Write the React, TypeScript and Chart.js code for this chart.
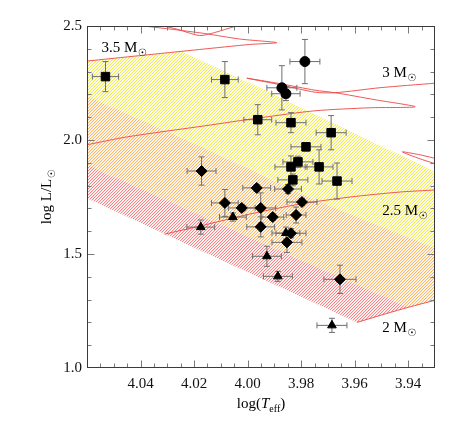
import React, { useEffect, useRef } from 'react';
import { Chart, registerables } from 'chart.js';

Chart.register(...registerables);

// ---------- Observed stars (log Teff, log L/Lsun) with errors ----------
const circleX = [3.9786, 3.9872, 3.9857];
const circleY = [2.344, 2.229, 2.203];
const circleXErr = [0.0056, 0.0056, 0.0053];
const circleYErr = [0.097, 0.097, 0.03];

const squareX = [4.0531, 4.0085, 3.9962, 3.9838, 3.9688, 3.9782, 3.9812, 3.9838, 3.9733, 3.9831, 3.9666];
const squareY = [2.278, 2.265, 2.089, 2.076, 2.032, 1.970, 1.904, 1.882, 1.882, 1.825, 1.820];
const squareXErr = [0.0049, 0.005, 0.0052, 0.0056, 0.0056, 0.0056, 0.0056, 0.006, 0.0052, 0.0056, 0.0056];
const squareYErr = [0.066, 0.079, 0.066, 0.044, 0.075, 0.018, 0.025, 0.048, 0.075, 0.026, 0.079];

const diamondX = [4.0172, 3.9966, 3.9849, 3.9797, 4.0085, 4.0022, 3.9951, 3.9906, 3.9819, 3.9951, 3.9838, 3.9853, 3.9655];
const diamondY = [1.864, 1.790, 1.785, 1.728, 1.724, 1.702, 1.702, 1.662, 1.671, 1.619, 1.591, 1.551, 1.389];
const diamondXErr = [0.0054, 0.0052, 0.005, 0.0056, 0.005, 0.005, 0.0056, 0.0041, 0.0037, 0.0052, 0.0056, 0.0056, 0.006];
const diamondYErr = [0.062, 0.015, 0.02, 0.015, 0.059, 0.015, 0.066, 0.015, 0.035, 0.044, 0.02, 0.044, 0.062];

const triangleX = [4.0175, 4.0055, 3.9857, 3.9928, 3.9887, 3.9685];
const triangleY = [1.618, 1.662, 1.592, 1.490, 1.402, 1.187];
const triangleXErr = [0.0052, 0.005, 0.0052, 0.0054, 0.0054, 0.0056];
const triangleYErr = [0.031, 0.018, 0.026, 0.044, 0.022, 0.031];

// ---------- Evolutionary tracks ----------
const track35X = [4.0602, 4.0404, 4.0179, 3.9992, 3.9891, 4.0029, 4.016, 4.0291, 4.0404, 4.0516, 4.0479, 4.0366, 4.0273, 4.0179, 4.0123, 4.0048, 3.9973];
const track35Y = [2.346, 2.370, 2.397, 2.419, 2.427, 2.4428, 2.467, 2.4868, 2.5022, 2.5198, 2.5286, 2.511, 2.489, 2.4582, 2.4714, 2.4978, 2.5198];

const track3X = [4.0602, 4.0449, 4.016, 3.9954, 3.9748, 3.9542, 3.9374, 3.9524, 3.9673, 3.9748, 3.9879, 4.0003, 3.9879, 3.9748, 3.9673, 3.9505, 3.9299];
const track3Y = [1.9787, 2.0139, 2.0622, 2.0974, 2.1282, 2.1414, 2.1458, 2.1766, 2.2074, 2.2184, 2.247, 2.2712, 2.2426, 2.2096, 2.2074, 2.2294, 2.2492];

const track25X = [4.031, 4.0179, 3.9992, 3.9804, 3.9617, 3.943, 3.9299];
const track25Y = [1.5871, 1.6223, 1.6751, 1.7191, 1.7499, 1.7719, 1.7807];

const loop25X = [3.9261, 3.9355, 3.9422, 3.9355, 3.9261];
const loop25Y = [1.9083, 1.9347, 1.9479, 1.9171, 1.8819];

const track2X = [3.9591, 3.9479, 3.94, 3.9299, 3.926];
const track2Y = [1.2, 1.2396, 1.266, 1.2967, 1.302];

// ---------- Shaded bands (polygons) ----------
const yellowBandX = [4.0602, 4.0404, 4.0246, 3.9954, 3.955, 3.9299, 3.9299, 3.9748, 4.0179, 4.0602];
const yellowBandY = [2.346, 2.370, 2.388, 2.229, 2.001, 1.860, 1.526, 1.737, 1.974, 2.194];
const orangeBandX = [4.0602, 4.0179, 3.9748, 3.9299, 3.9299, 3.94, 3.9868, 4.0179, 4.0602];
const orangeBandY = [2.194, 1.974, 1.737, 1.526, 1.297, 1.266, 1.508, 1.671, 1.891];
const redBandX = [4.0602, 4.0179, 3.9868, 3.94, 3.9479, 3.9591, 4.0602];
const redBandY = [1.891, 1.671, 1.508, 1.266, 1.240, 1.200, 1.746];

// ---------- Axes ----------
const xMajorTicks = [4.04, 4.02, 4.0, 3.98, 3.96, 3.94];
const yMajorTicks = [1.0, 1.5, 2.0, 2.5];
const xMinorStep = 0.005;
const yMinorStep = 0.1;

const massLabels = [
  { text: '3.5 M', x: 4.0546, y: 2.388 },
  { text: '3 M', x: 3.9497, y: 2.278 },
  { text: '2.5 M', x: 3.9497, y: 1.671 },
  { text: '2 M', x: 3.9497, y: 1.160 },
];

const SERIF = '"Liberation Serif", "Times New Roman", serif';

const pts = (xs: number[], ys: number[]) => xs.map((x, i) => ({ x, y: ys[i] }));

export default function App() {
  const ref = useRef<HTMLCanvasElement>(null);

  useEffect(() => {
    const canvas = ref.current!;
    const ctx0 = canvas.getContext('2d')!;

    const makeHatch = (rgb: number[]) => {
      const n = 3;
      const c = document.createElement('canvas');
      c.width = n;
      c.height = n;
      const g = c.getContext('2d')!;
      const img = g.createImageData(n, n);
      for (let y = 0; y < n; y++) {
        for (let x = 0; x < n; x++) {
          const i = (y * n + x) * 4;
          const k = (x + y) % n;
          const alpha = k === 0 ? 215 : k === 1 ? 60 : 0;
          img.data[i] = rgb[0];
          img.data[i + 1] = rgb[1];
          img.data[i + 2] = rgb[2];
          img.data[i + 3] = alpha;
        }
      }
      g.putImageData(img, 0, 0);
      return ctx0.createPattern(c, 'repeat')!;
    };

    const bands = [
      { xs: yellowBandX, ys: yellowBandY, fill: makeHatch([240, 230, 50]) },
      { xs: orangeBandX, ys: orangeBandY, fill: makeHatch([250, 170, 70]) },
      { xs: redBandX, ys: redBandY, fill: makeHatch([245, 110, 110]) },
    ];

    let errDrawn = false;

    const hrPlugin = {
      id: 'hrPlugin',
      beforeDatasetsDraw(chart: any) {
        errDrawn = false;
        const { ctx, chartArea: a, scales } = chart;
        ctx.save();
        ctx.beginPath();
        ctx.rect(a.left, a.top, a.right - a.left, a.bottom - a.top);
        ctx.clip();
        for (const b of bands) {
          ctx.beginPath();
          b.xs.forEach((x: number, i: number) => {
            const px = scales.x.getPixelForValue(x);
            const py = scales.y.getPixelForValue(b.ys[i]);
            if (i === 0) ctx.moveTo(px, py);
            else ctx.lineTo(px, py);
          });
          ctx.closePath();
          ctx.fillStyle = b.fill;
          ctx.fill();
        }
        ctx.restore();
      },
      beforeDatasetDraw(chart: any, args: any) {
        const ds = chart.data.datasets[args.index];
        if (!ds.errX || errDrawn) return;
        errDrawn = true;
        const { ctx, scales } = chart;
        ctx.save();
        ctx.strokeStyle = '#6e6e6e';
        ctx.lineWidth = 1;
        const cap = 3;
        for (const d of chart.data.datasets) {
          if (!d.errX) continue;
          d.data.forEach((p: any, i: number) => {
            const cx = scales.x.getPixelForValue(p.x);
            const cy = scales.y.getPixelForValue(p.y);
            const x1 = scales.x.getPixelForValue(p.x - d.errX[i]);
            const x2 = scales.x.getPixelForValue(p.x + d.errX[i]);
            const y1 = scales.y.getPixelForValue(p.y - d.errY[i]);
            const y2 = scales.y.getPixelForValue(p.y + d.errY[i]);
            ctx.beginPath();
            ctx.moveTo(x1, cy);
            ctx.lineTo(x2, cy);
            ctx.moveTo(x1, cy - cap);
            ctx.lineTo(x1, cy + cap);
            ctx.moveTo(x2, cy - cap);
            ctx.lineTo(x2, cy + cap);
            ctx.moveTo(cx, y1);
            ctx.lineTo(cx, y2);
            ctx.moveTo(cx - cap, y1);
            ctx.lineTo(cx + cap, y1);
            ctx.moveTo(cx - cap, y2);
            ctx.lineTo(cx + cap, y2);
            ctx.stroke();
          });
        }
        ctx.restore();
      },
      afterDraw(chart: any) {
        const { ctx, chartArea: a, scales } = chart;
        ctx.save();
        const L = Math.round(a.left) + 0.5;
        const R = Math.round(a.right) - 0.5;
        const T = Math.round(a.top) + 0.5;
        const B = Math.round(a.bottom) - 0.5;
        ctx.strokeStyle = '#7a7a7a';
        ctx.lineWidth = 1;
        ctx.beginPath();
        const xmin = scales.x.min, xmax = scales.x.max;
        const nx = Math.round((xmax - xmin) / xMinorStep);
        for (let i = 1; i < nx; i++) {
          const v = xmin + i * xMinorStep;
          const major = xMajorTicks.some((t) => Math.abs(t - v) < 1e-6);
          const len = major ? 7 : 4;
          const p = Math.round(scales.x.getPixelForValue(v)) + 0.5;
          ctx.moveTo(p, B);
          ctx.lineTo(p, B - len);
          ctx.moveTo(p, T);
          ctx.lineTo(p, T + len);
        }
        const ymin = scales.y.min, ymax = scales.y.max;
        const ny = Math.round((ymax - ymin) / yMinorStep);
        for (let i = 1; i < ny; i++) {
          const v = ymin + i * yMinorStep;
          const major = yMajorTicks.some((t) => Math.abs(t - v) < 1e-6);
          const len = major ? 7 : 4;
          const p = Math.round(scales.y.getPixelForValue(v)) + 0.5;
          ctx.moveTo(L, p);
          ctx.lineTo(L + len, p);
          ctx.moveTo(R, p);
          ctx.lineTo(R - len, p);
        }
        ctx.stroke();
        ctx.strokeStyle = '#3a3a3a';
        ctx.strokeRect(L, T, R - L, B - T);

        ctx.fillStyle = '#000';
        ctx.textBaseline = 'alphabetic';
        ctx.textAlign = 'left';
        for (const m of massLabels) {
          const px = scales.x.getPixelForValue(m.x);
          const py = scales.y.getPixelForValue(m.y);
          ctx.font = `15px ${SERIF}`;
          ctx.fillText(m.text, px, py);
          const w = ctx.measureText(m.text).width;
          ctx.font = '10px "DejaVu Sans"';
          ctx.fillText('\u2609', px + w + 0.5, py + 4);
        }

        const parts = [
          { t: 'log(', f: `15px ${SERIF}`, dy: 0 },
          { t: 'T', f: `italic 15px ${SERIF}`, dy: 0 },
          { t: 'eff', f: `10px ${SERIF}`, dy: 4 },
          { t: ')', f: `15px ${SERIF}`, dy: 0 },
        ];
        let tw = 0;
        for (const p of parts) {
          ctx.font = p.f;
          tw += ctx.measureText(p.t).width;
        }
        let cx = (a.left + a.right) / 2 - tw / 2;
        const by = 408;
        for (const p of parts) {
          ctx.font = p.f;
          ctx.fillText(p.t, cx, by + p.dy);
          cx += ctx.measureText(p.t).width;
        }

        ctx.translate(51, (a.top + a.bottom) / 2);
        ctx.rotate(-Math.PI / 2);
        ctx.font = `15px ${SERIF}`;
        const main = 'log L/L';
        const w1 = ctx.measureText(main).width;
        ctx.font = '10px "DejaVu Sans"';
        const w2 = ctx.measureText('\u2609').width;
        const sx = -(w1 + w2) / 2;
        ctx.font = `15px ${SERIF}`;
        ctx.fillText(main, sx, 0);
        ctx.font = '10px "DejaVu Sans"';
        ctx.fillText('\u2609', sx + w1 + 0.5, 4);
        ctx.restore();
      },
    };

    const trackStyle = {
      showLine: true,
      pointRadius: 0,
      pointHoverRadius: 0,
      borderColor: 'rgba(236,70,70,0.9)',
      borderWidth: 1,
      tension: 0.25,
      clip: 0,
      order: 1,
      fill: false,
    };

    const markerStyle = (style: string, r: number) => ({
      pointStyle: style,
      pointRadius: r,
      pointHoverRadius: r,
      backgroundColor: '#000',
      borderColor: '#000',
      borderWidth: 1,
      showLine: false,
      order: 0,
    });

    const chart = new Chart(canvas, {
      type: 'scatter',
      data: {
        datasets: [
          { label: 'circles', data: pts(circleX, circleY), errX: circleXErr, errY: circleYErr, ...markerStyle('circle', 5) } as any,
          { label: 'squares', data: pts(squareX, squareY), errX: squareXErr, errY: squareYErr, ...markerStyle('rect', 6) } as any,
          { label: 'diamonds', data: pts(diamondX, diamondY), errX: diamondXErr, errY: diamondYErr, ...markerStyle('rectRot', 5.5) } as any,
          { label: 'triangles', data: pts(triangleX, triangleY), errX: triangleXErr, errY: triangleYErr, ...markerStyle('triangle', 5) } as any,
          { label: '3.5 Msun', data: pts(track35X, track35Y), ...trackStyle } as any,
          { label: '3 Msun', data: pts(track3X, track3Y), ...trackStyle } as any,
          { label: '2.5 Msun', data: pts(track25X, track25Y), ...trackStyle } as any,
          { label: '2.5 Msun loop', data: pts(loop25X, loop25Y), ...trackStyle } as any,
          { label: '2 Msun', data: pts(track2X, track2Y), ...trackStyle } as any,
        ],
      },
      options: {
        responsive: false,
        animation: false,
        devicePixelRatio: 1,
        layout: { padding: { top: 26, right: 26, left: 0, bottom: 0 } },
        elements: { line: { capBezierPoints: false } as any },
        plugins: { legend: { display: false }, tooltip: { enabled: false }, title: { display: false } },
        events: [],
        scales: {
          x: {
            type: 'linear',
            min: 3.93,
            max: 4.06,
            reverse: true,
            grid: { display: false, drawTicks: false },
            border: { display: false },
            afterFit: (s: any) => { s.height = 56; },
            afterBuildTicks: (s: any) => { s.ticks = xMajorTicks.map((v) => ({ value: v })); },
            ticks: {
              padding: 7,
              color: '#111',
              font: { family: SERIF, size: 15 },
              maxRotation: 0,
              callback: (v: any) => Number(v).toFixed(2),
            },
          },
          y: {
            type: 'linear',
            min: 1.0,
            max: 2.5,
            grid: { display: false, drawTicks: false },
            border: { display: false },
            afterFit: (s: any) => { s.width = 87; },
            afterBuildTicks: (s: any) => { s.ticks = yMajorTicks.map((v) => ({ value: v })); },
            ticks: {
              padding: 5,
              color: '#111',
              font: { family: SERIF, size: 15 },
              callback: (v: any) => Number(v).toFixed(1),
            },
          },
        },
      } as any,
      plugins: [hrPlugin],
    });

    return () => chart.destroy();
  }, []);

  return (
    <div style={{ position: 'absolute', left: 0, top: 0, width: 461, height: 424, background: '#fff' }}>
      <canvas ref={ref} width={461} height={424} style={{ display: 'block', width: 461, height: 424 }} />
    </div>
  );
}
